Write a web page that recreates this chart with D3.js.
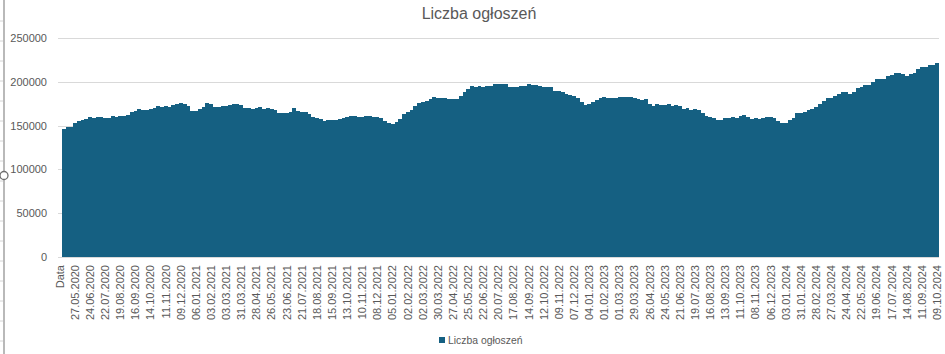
<!DOCTYPE html>
<html>
<head>
<meta charset="utf-8">
<script src="https://cdn.jsdelivr.net/npm/d3@7"></script>
<style>
  body { margin: 0; background: #fff; }
  svg { display: block; font-family: "Liberation Sans", Arial, sans-serif; }
</style>
</head>
<body>
<svg id="chart" width="945" height="354"></svg>
<script>
// weekly readings (Wednesdays), 06.05.2020 .. 09.10.2024
var values = [
  146000,148500,148500,153000,155000,156000,158000,159500,159000,160000,
  160000,158700,158700,161000,160000,161000,161000,162500,165000,167000,
  169000,168000,168000,169000,170000,172000,171000,172000,171500,173500,
  175000,175800,174500,172000,166700,166500,168500,171000,176000,175000,
  171500,171500,172700,172700,174000,174700,174700,173500,170000,170000,
  169000,170000,171000,169000,170000,169000,167800,164000,164400,164400,
  166000,170000,167000,166000,165500,163600,159500,158300,157000,155300,
  156000,156400,156400,157000,158700,159500,161000,161000,160000,160000,
  161000,160500,160000,160000,158300,155600,152600,151800,154500,157000,
  163200,165900,167800,172000,175400,177000,178500,180400,182300,181200,
  181200,181200,180500,180800,180800,184200,188400,191800,194800,194300,
  195000,194500,195600,195200,197500,197200,197500,197500,194000,194000,
  193700,195200,195200,197500,196500,196500,195200,194000,194500,193700,
  190000,189100,188000,186000,185000,184200,181500,177500,173900,174500,
  177000,179000,181500,182300,182000,182000,182000,182600,182600,182600,
  182600,182000,180000,179200,180000,175000,172700,174600,174000,174000,
  174600,172700,173500,172000,168500,170000,167800,169000,167400,164000,
  161000,160000,158700,156400,156400,158300,158300,160000,158300,161000,
  162000,159500,158000,158500,157500,158700,160000,160000,158700,155300,
  153300,152600,156000,159000,164000,164000,165900,167400,169500,171200,
  175000,177700,181200,181200,183800,186500,188400,188400,185600,188500,
  193300,194400,195800,195800,199800,203200,203200,203500,206500,207700,
  210000,209500,208500,207000,208500,209800,214300,216600,217000,218800,
  219500,222000
];

var tickLabels = ["Data",
  "27.05.2020","24.06.2020","22.07.2020","19.08.2020","16.09.2020","14.10.2020","11.11.2020","09.12.2020",
  "06.01.2021","03.02.2021","03.03.2021","31.03.2021","28.04.2021","26.05.2021","23.06.2021","21.07.2021",
  "18.08.2021","15.09.2021","13.10.2021","10.11.2021","08.12.2021","05.01.2022","02.02.2022","02.03.2022",
  "30.03.2022","27.04.2022","25.05.2022","22.06.2022","20.07.2022","17.08.2022","14.09.2022","12.10.2022",
  "09.11.2022","07.12.2022","04.01.2023","01.02.2023","01.03.2023","29.03.2023","26.04.2023","24.05.2023",
  "21.06.2023","19.07.2023","16.08.2023","13.09.2023","11.10.2023","08.11.2023","06.12.2023","03.01.2024",
  "31.01.2024","28.02.2024","27.03.2024","24.04.2024","22.05.2024","19.06.2024","17.07.2024","14.08.2024",
  "11.09.2024","09.10.2024"];

var yTicks = [0, 50000, 100000, 150000, 200000, 250000];
var seriesName = "Liczba ogłoszeń";

var fmt = d3.timeFormat("%d.%m.%Y");
var dates = d3.timeDay.range(new Date(2020, 4, 6), new Date(2024, 9, 10), 7).map(fmt);
var categories = ["Data"].concat(dates);
var rows = dates.map(function(d, i){ return {cat: d, v: values[i]}; });

var svg = d3.select("#chart");
var textColor = "#595959";

// sheet edge / selection handle on the left
svg.selectAll(".rowmark").data(d3.range(21, 354, 20)).enter().append("line")
  .attr("x1", 0).attr("x2", 3).attr("y1", function(d){return d;}).attr("y2", function(d){return d;})
  .attr("stroke", "#d4d4d4");
svg.append("line").attr("x1", 4).attr("x2", 4).attr("y1", 0).attr("y2", 354)
  .attr("stroke", "#8a8a8a").attr("stroke-width", 1.2);
svg.append("circle").attr("cx", 4).attr("cy", 175.5).attr("r", 4)
  .attr("fill", "#fff").attr("stroke", "#6e6e6e").attr("stroke-width", 1.3);

var x = d3.scaleBand().domain(categories).range([58, 939]).padding(0);
var y = d3.scaleLinear().domain([0, 250000]).range([257, 38]);

// gridlines
svg.append("g").selectAll("line").data(yTicks).enter().append("line")
  .attr("x1", 58).attr("x2", 939)
  .attr("y1", function(d){ return Math.round(y(d)) + 0.5; })
  .attr("y2", function(d){ return Math.round(y(d)) + 0.5; })
  .attr("stroke", "#d9d9d9");

// bars
svg.append("g").selectAll("rect").data(rows).enter().append("rect")
  .attr("x", function(d){ return x(d.cat); })
  .attr("width", x.bandwidth())
  .attr("y", function(d){ return y(d.v); })
  .attr("height", function(d){ return y(0) - y(d.v); })
  .attr("fill", "#156082")
  .attr("shape-rendering", "crispEdges");

// y axis
var yAxis = svg.append("g").attr("transform", "translate(50,0)")
  .call(d3.axisLeft(y).tickValues(yTicks).tickSize(0).tickPadding(3).tickFormat(d3.format("d")));
yAxis.select(".domain").remove();
yAxis.selectAll("text").attr("fill", textColor).style("font-size", "11px")
  .style("font-family", '"Liberation Sans", Arial, sans-serif');

// x axis
var xAxis = svg.append("g").attr("transform", "translate(0,257)")
  .call(d3.axisBottom(x).tickValues(tickLabels).tickSize(0));
xAxis.select(".domain").remove();
xAxis.selectAll("text")
  .attr("fill", textColor).style("font-size", "11px")
  .style("font-family", '"Liberation Sans", Arial, sans-serif')
  .attr("text-anchor", "end")
  .attr("transform", "rotate(-90)")
  .attr("x", -8).attr("y", 0).attr("dy", "0.35em");

// title
svg.append("text").attr("x", 479).attr("y", 19).attr("text-anchor", "middle")
  .attr("fill", textColor).style("font-size", "16px").text(seriesName);

// legend
svg.append("rect").attr("x", 439).attr("y", 337).attr("width", 6).attr("height", 6).attr("fill", "#156082");
svg.append("text").attr("x", 448).attr("y", 344).attr("fill", textColor)
  .style("font-size", "10.4px").text(seriesName);
</script>
</body>
</html>
